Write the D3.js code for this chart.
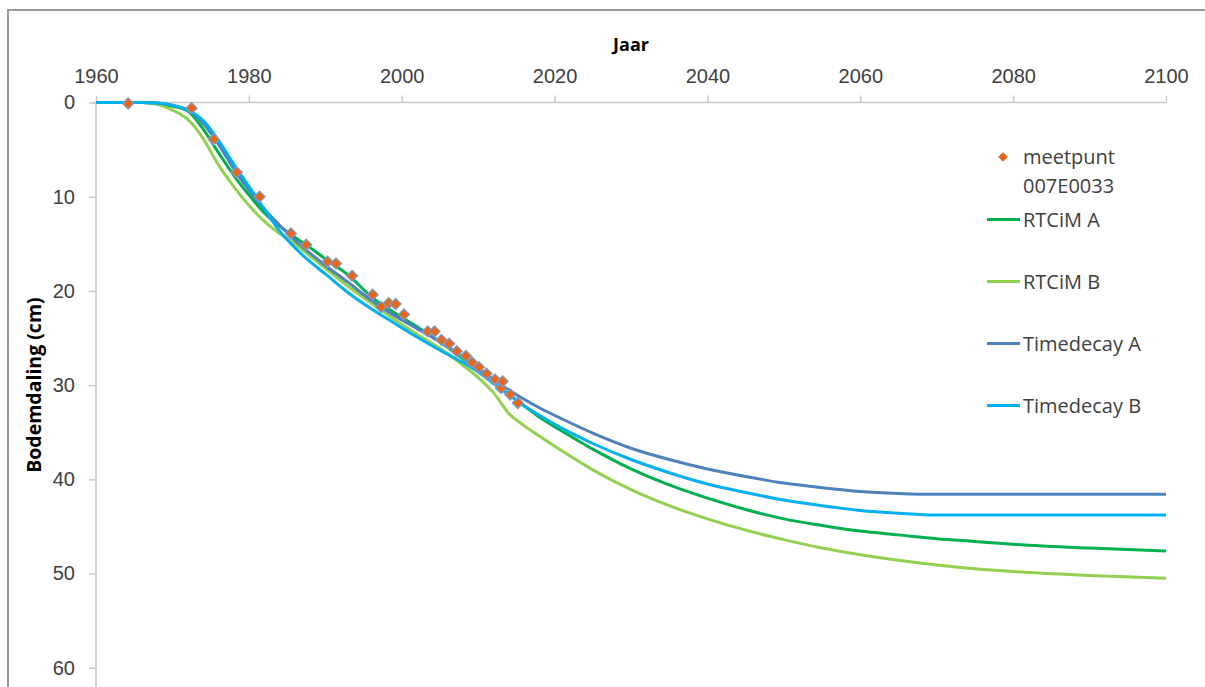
<!DOCTYPE html>
<html>
<head>
<meta charset="utf-8">
<script src="https://cdn.jsdelivr.net/npm/d3@7"></script>
<style>
  body { margin: 0; background: #fff; }
  svg { display: block; font-family: "Open Sans", "Noto Sans", sans-serif; }
</style>
</head>
<body>
<div class="chart"></div>
<script>
var svgWidth = 1205;
var svgHeight = 687;

// Data
var years = [1960, 1966, 1968, 1970, 1972, 1974, 1976, 1978, 1980, 1982, 1984, 1986, 1988, 1990,
  1993, 1996, 1999, 2002, 2005, 2008, 2010, 2012, 2014, 2016, 2018, 2021, 2025, 2030, 2035,
  2040, 2045, 2050, 2055, 2060, 2065, 2070, 2075, 2080, 2090, 2100];

var rtcimA = [0, 0, 0.1, 0.4, 0.9, 2.8, 5.3, 7.7, 9.8, 11.7, 13.1, 14.3, 15.4, 16.6,
  18.3, 20.6, 22.3, 23.8, 25.4, 27.2, 28.5, 29.8, 31.0, 32.2, 33.4, 34.9, 36.8, 38.9, 40.6,
  42.0, 43.2, 44.2, 44.9, 45.5, 45.9, 46.3, 46.6, 46.9, 47.3, 47.6];

var rtcimB = [0, 0, 0.2, 0.8, 1.8, 3.8, 6.6, 8.9, 10.9, 12.6, 13.9, 15.0, 16.3, 17.6,
  19.5, 21.3, 23.0, 24.6, 26.1, 27.9, 29.2, 30.8, 33.0, 34.3, 35.4, 37.0, 39.0, 41.1, 42.8,
  44.2, 45.4, 46.4, 47.3, 48.0, 48.6, 49.1, 49.5, 49.8, 50.2, 50.5];

var timedecayA = [0, 0, 0.05, 0.3, 0.8, 2.2, 4.4, 7.0, 9.3, 11.3, 13.0, 14.6, 16.0, 17.3,
  19.1, 21.0, 22.6, 24.0, 25.4, 27.0, 28.2, 29.4, 30.5, 31.5, 32.4, 33.6, 35.1, 36.7, 37.9,
  38.9, 39.7, 40.4, 40.9, 41.3, 41.5, 41.6, 41.6, 41.6, 41.6, 41.6];

var timedecayB = [0, 0, 0.05, 0.3, 0.8, 1.9, 4.0, 6.5, 8.9, 11.3, 13.6, 15.4, 16.9, 18.2,
  20.2, 21.9, 23.4, 24.9, 26.3, 27.6, 28.6, 29.8, 31.0, 32.2, 33.2, 34.6, 36.2, 37.9, 39.3,
  40.5, 41.4, 42.2, 42.8, 43.3, 43.6, 43.8, 43.8, 43.8, 43.8, 43.8];

var meetYears = [1964.2, 1972.5, 1975.4, 1978.4, 1981.4, 1985.5, 1987.5, 1990.3, 1991.4, 1993.5,
  1996.2, 1997.3, 1998.3, 1999.2, 2000.3, 2003.4, 2004.3, 2005.2, 2006.2, 2007.2, 2008.4,
  2009.2, 2010.1, 2011.1, 2012.2, 2013.0, 2013.2, 2014.2, 2015.2];
var meetValues = [0.1, 0.6, 3.9, 7.4, 10.0, 13.9, 15.1, 16.9, 17.1, 18.4,
  20.4, 21.7, 21.3, 21.4, 22.5, 24.3, 24.3, 25.2, 25.6, 26.4, 26.9,
  27.6, 28.1, 28.8, 29.4, 30.3, 29.6, 31.0, 31.9];

var xTicks = [1960, 1980, 2000, 2020, 2040, 2060, 2080, 2100];
var yTicks = [0, 10, 20, 30, 40, 50, 60];

var series = [
  { name: "RTCiM A", values: rtcimA, color: "#00b050" },
  { name: "RTCiM B", values: rtcimB, color: "#92d050" },
  { name: "Timedecay A", values: timedecayA, color: "#4f81bd" },
  { name: "Timedecay B", values: timedecayB, color: "#00b0f0" }
];

var svg = d3.select(".chart")
  .append("svg")
  .attr("width", svgWidth)
  .attr("height", svgHeight);

// chart border (only top and left are inside the picture)
svg.append("rect")
  .attr("x", 8).attr("y", 10)
  .attr("width", 1300).attr("height", 800)
  .attr("fill", "none")
  .attr("stroke", "#999")
  .attr("stroke-width", 2);

// Scales
var x = d3.scaleLinear().domain([1960, 2100]).range([96, 1166]);
var y = d3.scaleLinear().domain([0, 60]).range([102.5, 667.7]);

// Axes
var topAxis = d3.axisTop(x).tickValues(xTicks).tickFormat(d3.format("d")).tickSize(7).tickPadding(13);
var leftAxis = d3.axisLeft(y).tickValues(yTicks).tickSize(7).tickPadding(14);

var gx = svg.append("g").attr("transform", "translate(0," + y(0) + ")").call(topAxis);
var gy = svg.append("g").attr("transform", "translate(" + x(1960) + ",0)").call(leftAxis);

[gx, gy].forEach(function(g) {
  g.select(".domain").remove();
  g.selectAll(".tick line").attr("stroke", "#c8c8c8").attr("stroke-width", 1.5);
  g.selectAll(".tick text")
    .attr("fill", "#404040")
    .style("font-size", "20px");
});

svg.append("line")
  .attr("x1", 93).attr("x2", x(2100))
  .attr("y1", y(0)).attr("y2", y(0))
  .attr("stroke", "#c8c8c8").attr("stroke-width", 1.5);
svg.append("line")
  .attr("x1", x(1960)).attr("x2", x(1960))
  .attr("y1", y(0)).attr("y2", svgHeight)
  .attr("stroke", "#c8c8c8").attr("stroke-width", 1.5);

// Axis titles
svg.append("text")
  .attr("x", x(2030)).attr("y", 51)
  .attr("text-anchor", "middle")
  .attr("fill", "#000")
  .style("font-size", "18px").style("font-weight", "bold")
  .text("Jaar");

svg.append("text")
  .attr("transform", "translate(41," + y(30) + ") rotate(-90)")
  .attr("text-anchor", "middle")
  .attr("fill", "#000")
  .style("font-size", "19.5px").style("font-weight", "bold")
  .text("Bodemdaling (cm)");

// Lines
var line = d3.line()
  .x(function(d) { return x(d[0]); })
  .y(function(d) { return y(d[1]); })
  .curve(d3.curveMonotoneX);

series.forEach(function(s) {
  svg.append("path")
    .datum(years.map(function(yr, i) { return [yr, s.values[i]]; }))
    .attr("fill", "none")
    .attr("stroke", s.color)
    .attr("stroke-width", 3)
    .attr("stroke-linejoin", "round")
    .attr("d", line);
});

// Measured points
var diamond = d3.symbol().type(d3.symbolDiamond2).size(78);
svg.append("g").selectAll("path")
  .data(meetYears.map(function(yr, i) { return [yr, meetValues[i]]; }))
  .enter()
  .append("path")
  .attr("transform", function(d) { return "translate(" + x(d[0]) + "," + y(d[1]) + ")"; })
  .attr("d", diamond)
  .attr("fill", "#e8661a")
  .attr("stroke", "#7d9cc6")
  .attr("stroke-width", 1.3);

// Legend
var legend = svg.append("g").style("font-size", "20px").attr("fill", "#404040");
legend.append("path")
  .attr("transform", "translate(1003,157)")
  .attr("d", d3.symbol().type(d3.symbolDiamond2).size(60))
  .attr("fill", "#e8661a");
legend.append("text").attr("x", 1023).attr("y", 164).text("meetpunt");
legend.append("text").attr("x", 1023).attr("y", 193).text("007E0033");

series.forEach(function(s, i) {
  var ly = 219.5 + i * 62;
  legend.append("line")
    .attr("x1", 987).attr("x2", 1020)
    .attr("y1", ly).attr("y2", ly)
    .attr("stroke", s.color).attr("stroke-width", 3);
  legend.append("text").attr("x", 1023).attr("y", ly + 7).text(s.name);
});
</script>
</body>
</html>
